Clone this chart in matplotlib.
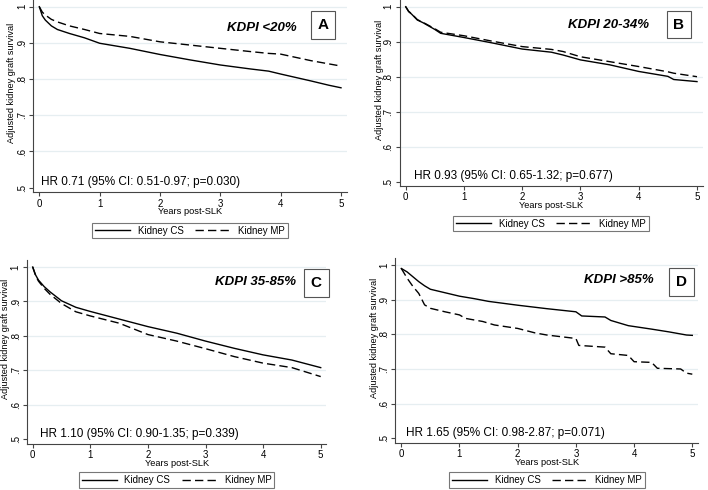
import numpy as np
import matplotlib
matplotlib.use("Agg")
import matplotlib.pyplot as plt
from matplotlib.patches import Rectangle

plt.rcParams['font.family'] = ['Liberation Sans', 'DejaVu Sans']

# ---- data ----
a_years = [0, 0.05, 0.1, 0.2, 0.3, 0.5, 0.75, 1, 1.5, 2, 2.5, 3, 3.5, 3.8, 4, 4.5, 4.8, 5]
a_cs = [1.0, 0.975, 0.963, 0.947, 0.937, 0.926, 0.914, 0.899, 0.885, 0.868, 0.853, 0.839, 0.828, 0.822, 0.814, 0.795, 0.783, 0.776]
a_mp = [1.0, 0.985, 0.977, 0.965, 0.958, 0.947, 0.937, 0.926, 0.918, 0.903, 0.894, 0.885, 0.876, 0.871, 0.869, 0.851, 0.842, 0.836]

b_years = [0, 0.05, 0.1, 0.2, 0.3, 0.5, 0.6, 1, 1.5, 2, 2.5, 2.7, 3, 3.5, 4, 4.5, 4.6, 5]
b_cs = [1.0, 0.986, 0.979, 0.962, 0.954, 0.935, 0.924, 0.912, 0.896, 0.879, 0.870, 0.862, 0.848, 0.834, 0.815, 0.801, 0.792, 0.786]
b_mp = [1.0, 0.987, 0.980, 0.963, 0.955, 0.937, 0.927, 0.917, 0.901, 0.886, 0.878, 0.872, 0.857, 0.843, 0.829, 0.814, 0.810, 0.800]

c_years = [0, 0.05, 0.1, 0.2, 0.3, 0.5, 0.75, 1, 1.5, 2, 2.5, 3, 3.5, 4, 4.5, 5]
c_cs = [1.0, 0.977, 0.962, 0.943, 0.928, 0.902, 0.883, 0.871, 0.849, 0.827, 0.808, 0.785, 0.764, 0.745, 0.730, 0.708]
c_mp = [1.0, 0.975, 0.959, 0.938, 0.921, 0.894, 0.870, 0.858, 0.837, 0.804, 0.785, 0.763, 0.740, 0.721, 0.708, 0.682]

d_cs_years = [0, 0.1, 0.2, 0.3, 0.4, 0.5, 0.75, 1, 1.25, 1.5, 2, 2.5, 3, 3.1, 3.5, 3.6, 3.9, 4.3, 4.6, 4.9, 5]
d_cs = [0.99, 0.98, 0.966, 0.952, 0.940, 0.930, 0.920, 0.910, 0.903, 0.895, 0.884, 0.874, 0.865, 0.853, 0.850, 0.840, 0.825, 0.815, 0.807, 0.798, 0.797]
d_mp_years = [0, 0.1, 0.2, 0.3, 0.4, 0.5, 0.75, 1, 1.1, 1.4, 1.6, 2, 2.3, 2.5, 3, 3.05, 3.5, 3.6, 3.9, 4.0, 4.3, 4.4, 4.8, 4.9, 5]
d_mp = [0.99, 0.962, 0.938, 0.918, 0.885, 0.875, 0.865, 0.856, 0.846, 0.837, 0.827, 0.817, 0.804, 0.798, 0.788, 0.768, 0.763, 0.744, 0.739, 0.721, 0.719, 0.702, 0.700, 0.688, 0.685]

titles = ['KDPI <20%', 'KDPI 20-34%', 'KDPI 35-85%', 'KDPI >85%']
letters = ['A', 'B', 'C', 'D']
hr_texts = ['HR 0.71 (95% CI: 0.51-0.97; p=0.030)',
            'HR 0.93 (95% CI: 0.65-1.32; p=0.677)',
            'HR 1.10 (95% CI: 0.90-1.35; p=0.339)',
            'HR 1.65 (95% CI: 0.98-2.87; p=0.071)']
y_ticks = [0.5, 0.6, 0.7, 0.8, 0.9, 1.0]
y_labels = ['.5', '.6', '.7', '.8', '.9', '1']

W, H = 708, 490
fig = plt.figure(figsize=(W / 100, H / 100), dpi=100)

XL = (-0.1, 5.1)
YL = (0.487, 1.02)

# pixel spots of x=0, x=5, y=1, y=.5 per panel
spots = [(39.3, 341, 6.7, 187.7),
         (405.7, 697, 6.7, 181.7),
         (32.7, 320.7, 267, 439.3),
         (401.3, 692.3, 265, 438.3)]
ylab_px = [11.5, 379, 5.5, 375]
hr_x = [0.02, 0.14, 0.13, 0.075]
title_pos = [(296.7, 28.3), (649, 25), (296, 281.7), (653.3, 280)]
box_pos = [(311, 11, 24, 28), (667, 11, 24, 27.5), (303.5, 269, 25, 28.5), (669, 268, 25, 28)]
leg_pos = [(190, 230.5), (551, 223.5), (176.5, 480), (547, 480)]

series = [(a_years, a_cs, a_years, a_mp),
          (b_years, b_cs, b_years, b_mp),
          (c_years, c_cs, c_years, c_mp),
          (d_cs_years, d_cs, d_mp_years, d_mp)]

axis_col = '#444444'
for i in range(4):
    px0, px5, py1, py05 = spots[i]
    sx = (px5 - px0) / 5
    sy = (py05 - py1) / 0.5
    left = px0 + XL[0] * sx
    width = (XL[1] - XL[0]) * sx
    top = py1 - (YL[1] - 1) * sy
    bottom = py1 + (1 - YL[0]) * sy
    ax = fig.add_axes([left / W, 1 - bottom / H, width / W, (bottom - top) / H])
    ax.set_xlim(XL)
    ax.set_ylim(YL)
    for s in ['top', 'right']:
        ax.spines[s].set_visible(False)
    for s in ['left', 'bottom']:
        ax.spines[s].set_color(axis_col)
        ax.spines[s].set_linewidth(0.8)
    for yv in y_ticks[1:]:
        ax.axhline(yv, color='#e6eef1', lw=0.9, zorder=0)

    xc, yc, xm, ym = series[i]
    ax.plot(xc, yc, color='black', lw=1.0, label='Kidney CS')
    ax.plot(xm, ym, color='black', lw=1.0, dashes=(6, 3), label='Kidney MP')

    ax.set_xticks([0, 1, 2, 3, 4, 5])
    ax.set_yticks(y_ticks)
    ax.set_yticklabels(y_labels, rotation=90, va='center')
    ax.tick_params(axis='both', labelsize=7, color=axis_col, length=3, width=0.8, pad=1.5)
    ax.set_xlabel('Years post-SLK', fontsize=6.7, labelpad=-1)
    ax.set_ylabel('Adjusted kidney graft survival', fontsize=6.6, va='center')
    ax.yaxis.set_label_coords((ylab_px[i] - left) / width, 0.57)

    ax.text(hr_x[i], 0.515, hr_texts[i], fontsize=8.5, va='center', ha='left')

    tx, ty = title_pos[i]
    fig.text(tx / W, 1 - ty / H, titles[i], fontsize=9.5, fontweight='bold',
             fontstyle='italic', ha='right', va='center')
    bx, by, bw, bh = box_pos[i]
    fig.patches.append(Rectangle((bx / W, 1 - (by + bh) / H), bw / W, bh / H,
                                 transform=fig.transFigure, fill=False,
                                 edgecolor='#555555', lw=0.8))
    fig.text((bx + bw / 2) / W, 1 - (by + bh / 2) / H, letters[i], fontsize=11,
             fontweight='bold', ha='center', va='center')

    lx, ly = leg_pos[i]
    handles, labels = ax.get_legend_handles_labels()
    leg = fig.legend(handles, labels, loc='center', ncol=2, fontsize=7,
                     bbox_to_anchor=(lx / W, 1 - ly / H), frameon=True,
                     fancybox=False, edgecolor='#555555', handlelength=3.6,
                     columnspacing=1.2, borderpad=0.3, handletextpad=0.8)
    leg.get_frame().set_linewidth(0.8)

fig.savefig('out.png', dpi=100)
